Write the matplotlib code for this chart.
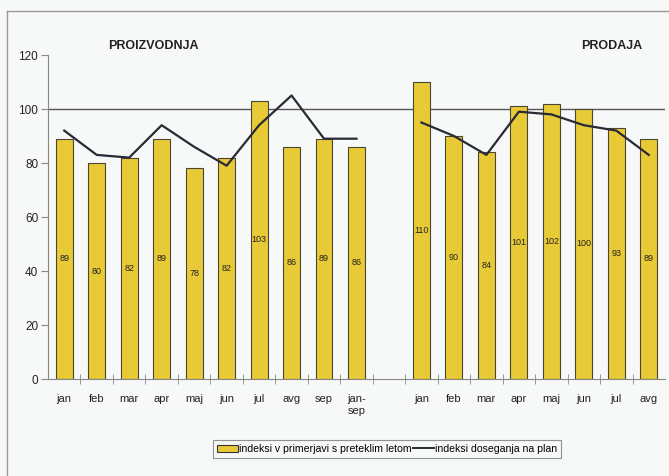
import matplotlib
matplotlib.use("Agg")
import matplotlib.pyplot as plt
from matplotlib.patches import Patch
from matplotlib.lines import Line2D
import numpy as np

plt.rcParams['font.family'] = ['Liberation Sans', 'DejaVu Sans']

# production (proizvodnja)
prod_labels = ['jan', 'feb', 'mar', 'apr', 'maj', 'jun', 'jul', 'avg', 'sep', 'jan-\nsep']
prod_index = [89, 80, 82, 89, 78, 82, 103, 86, 89, 86]
prod_plan = [92, 83, 82, 94, 86, 79, 94, 105, 89, 89]

# sales (prodaja)
sales_labels = ['jan', 'feb', 'mar', 'apr', 'maj', 'jun', 'jul', 'avg']
sales_index = [110, 90, 84, 101, 102, 100, 93, 89]
sales_plan = [95, 90, 83, 99, 98, 94, 92, 83]

bar_color = '#e8ca36'
bg = '#f7f9f8'

n_prod = len(prod_labels)
x_prod = np.arange(n_prod)
x_sales = np.arange(len(sales_labels)) + n_prod + 1

fig = plt.figure(figsize=(6.69, 4.76), dpi=100, facecolor=bg)
ax = fig.add_axes([48 / 669, 97 / 476, 617 / 669, 324 / 476])
ax.set_facecolor(bg)

ax.bar(x_prod, prod_index, width=0.52, color=bar_color, edgecolor='#4a4630', linewidth=0.8, zorder=2)
ax.bar(x_sales, sales_index, width=0.52, color=bar_color, edgecolor='#4a4630', linewidth=0.8, zorder=2)
for x, v in zip(list(x_prod) + list(x_sales), prod_index + sales_index):
    ax.text(x, v / 2, str(v), ha='center', va='center', fontsize=6.5, color='#222222', zorder=3)

ax.plot(x_prod, prod_plan, color='#2a2a35', linewidth=1.6, zorder=4)
ax.plot(x_sales, sales_plan, color='#2a2a35', linewidth=1.6, zorder=4)
ax.axhline(100, color='#555555', linewidth=1.0, zorder=1)

ax.set_xlim(-0.5, n_prod + len(sales_labels) + 0.5)
ax.set_ylim(0, 120)
ax.set_yticks(range(0, 121, 20))
ax.set_xticks(list(x_prod) + list(x_sales))
ax.set_xticklabels(prod_labels + sales_labels)
ax.set_xticks(np.arange(0.5, n_prod + len(sales_labels), 1.0), minor=True)
ax.tick_params(axis='x', which='major', length=0, pad=11, labelsize=8, labelcolor='#222222')
ax.tick_params(axis='x', which='minor', length=7, direction='inout', color='#888888')
ax.tick_params(axis='y', length=5, pad=2, color='#888888', labelsize=8.5, labelcolor='#222222')
for s in ['top', 'right']:
    ax.spines[s].set_visible(False)
ax.spines['left'].set_color('#888888')
ax.spines['bottom'].set_color('#888888')

fig.text(153 / 669, 1 - 46 / 476, 'PROIZVODNJA', ha='center', va='center', fontsize=9, fontweight='bold', color='#222222')
fig.text(612 / 669, 1 - 46 / 476, 'PRODAJA', ha='center', va='center', fontsize=9, fontweight='bold', color='#222222')

# outer frame
fig.add_artist(Line2D([7 / 669, 7 / 669], [0, 1 - 11 / 476], transform=fig.transFigure, color='#999999', linewidth=1))
fig.add_artist(Line2D([7 / 669, 1], [1 - 11 / 476, 1 - 11 / 476], transform=fig.transFigure, color='#999999', linewidth=1))

handles = [Patch(facecolor=bar_color, edgecolor='#333333', linewidth=0.8),
           Line2D([0], [0], color='#2a2a35', linewidth=1.4)]
leg = fig.legend(handles, ['indeksi v primerjavi s preteklim letom', 'indeksi doseganja na plan'],
                 loc='center', bbox_to_anchor=(387 / 669, 1 - 449 / 476), ncol=2, fontsize=7.6,
                 frameon=True, fancybox=False, edgecolor='#777777', facecolor=bg,
                 handlelength=2.0, handletextpad=0.1, columnspacing=0.1, borderpad=0.35,
                 borderaxespad=0)
leg.get_frame().set_linewidth(0.8)

fig.savefig('out.png', dpi=100, facecolor=bg)
